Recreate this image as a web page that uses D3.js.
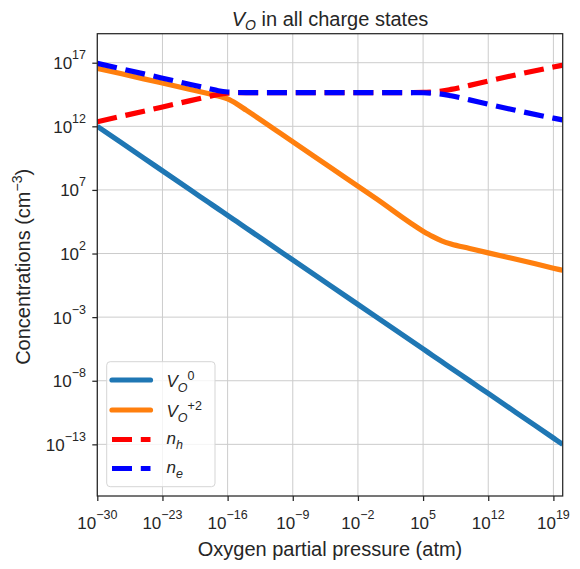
<!DOCTYPE html>
<html>
<head>
<meta charset="utf-8">
<script src="https://cdn.jsdelivr.net/npm/d3@7"></script>
<style>
  html, body { margin: 0; padding: 0; background: #fff; }
  svg text { font-family: "Liberation Sans", Arial, sans-serif; fill: #262626; }
</style>
</head>
<body>
<svg id="chart" width="580" height="569"></svg>
<script>
// ---- data (log10 of values) ----
const logPO2 = [-30, -25, -20, -18, -17, -16, -15, -14, -10, -5, 0, 5, 6, 7, 8, 10, 12, 15, 19, 20];
const logVO0 = [12.0, 9.5, 7.0, 6.0, 5.5, 5.0, 4.5, 4.0, 2.0, -0.5, -3.0, -5.5, -6.0, -6.5, -7.0, -8.0, -9.0, -10.5, -12.5, -13.0];
const logVO2 = [16.56, 15.73, 14.9, 14.56, 14.38, 14.15, 13.75, 13.27, 11.29, 8.79, 6.29, 3.76, 3.35, 3.0, 2.75, 2.4, 2.05, 1.55, 0.85, 0.68];
const logNh  = [12.36, 13.19, 14.02, 14.35, 14.5, 14.6, 14.64, 14.65, 14.65, 14.65, 14.65, 14.66, 14.7, 14.77, 14.9, 15.22, 15.56, 16.05, 16.66, 16.8];
const logNe  = [16.95, 16.12, 15.29, 14.96, 14.8, 14.7, 14.66, 14.65, 14.65, 14.65, 14.65, 14.64, 14.6, 14.53, 14.4, 14.08, 13.74, 13.25, 12.64, 12.5];

const xTickExps = [-30, -23, -16, -9, -2, 5, 12, 19];
const yTickExps = [17, 12, 7, 2, -3, -8, -13];

const seriesNames = ["VO0", "VO2", "nh", "ne"];
const seriesColors = ["#1f77b4", "#ff7f0e", "#ff0000", "#0000ff"];
const seriesDashed = [false, false, true, true];

const titleParts = ["V", "O", " in all charge states"];
const xLabel = "Oxygen partial pressure (atm)";
const yLabelParts = ["Concentrations (cm", "\u22123", ")"];

// ---- layout ----
const svg = d3.select("#chart");
const m = { left: 97.3, right: 562.7, top: 33.7, bottom: 496 };

const x = d3.scaleLog().domain([1e-30, 1e20]).range([m.left, m.right]);
const y = d3.scaleLog().domain([Math.pow(10, -17.06), Math.pow(10, 19.28)]).range([m.bottom, m.top]);

const pow = e => Math.pow(10, e);
const fmtExp = e => (e < 0 ? "\u2212" + Math.abs(e) : String(e));

// grid
const grid = svg.append("g");
grid.selectAll("line.gx").data(xTickExps).join("line")
  .attr("x1", d => x(pow(d))).attr("x2", d => x(pow(d)))
  .attr("y1", m.top).attr("y2", m.bottom)
  .attr("stroke", "#cccccc").attr("stroke-width", 1);
grid.selectAll("line.gy").data(yTickExps).join("line")
  .attr("y1", d => y(pow(d))).attr("y2", d => y(pow(d)))
  .attr("x1", m.left).attr("x2", m.right)
  .attr("stroke", "#cccccc").attr("stroke-width", 1);

// axes ticks
const xAxis = d3.axisBottom(x).tickValues(xTickExps.map(pow)).tickSize(5).tickFormat(() => "");
const yAxis = d3.axisLeft(y).tickValues(yTickExps.map(pow)).tickSize(5).tickFormat(() => "");
const gx = svg.append("g").attr("transform", `translate(0,${m.bottom})`).call(xAxis);
const gy = svg.append("g").attr("transform", `translate(${m.left},0)`).call(yAxis);
[gx, gy].forEach(g => {
  g.select(".domain").remove();
  g.selectAll(".tick line").attr("stroke", "#262626").attr("stroke-width", 1.25);
});

// x tick labels
xTickExps.forEach(e => {
  const t = svg.append("text")
    .attr("x", x(pow(e))).attr("y", 529)
    .attr("text-anchor", "middle").attr("font-size", 17);
  t.append("tspan").text("10");
  t.append("tspan").attr("dy", -10).attr("font-size", 12.5).text(fmtExp(e));
});
// y tick labels
yTickExps.forEach(e => {
  const t = svg.append("text")
    .attr("x", 86).attr("y", y(pow(e)) + 6.5)
    .attr("text-anchor", "end").attr("font-size", 17);
  t.append("tspan").text("10");
  t.append("tspan").attr("dy", -10).attr("font-size", 12.5).text(fmtExp(e));
});

// lines
const allSeries = [logVO0, logVO2, logNh, logNe];
const line = d3.line()
  .x(d => x(pow(d[0])))
  .y(d => y(pow(d[1])))
  .curve(d3.curveMonotoneX);

svg.append("clipPath").attr("id", "clip").append("rect")
  .attr("x", m.left).attr("y", m.top).attr("width", m.right - m.left).attr("height", m.bottom - m.top);

const plot = svg.append("g").attr("clip-path", "url(#clip)");
allSeries.forEach((vals, i) => {
  const pts = logPO2.map((p, j) => [p, vals[j]]);
  plot.append("path")
    .datum(pts)
    .attr("d", line)
    .attr("fill", "none")
    .attr("stroke", seriesColors[i])
    .attr("stroke-width", 5.2)
    .attr("stroke-linejoin", "round")
    .attr("stroke-dasharray", seriesDashed[i] ? "20,8.8" : null);
});

// frame
svg.append("rect")
  .attr("x", m.left).attr("y", m.top).attr("width", m.right - m.left).attr("height", m.bottom - m.top)
  .attr("fill", "none").attr("stroke", "#262626").attr("stroke-width", 1.25);

// title
const title = svg.append("text").attr("x", (m.left + m.right) / 2).attr("y", 26)
  .attr("text-anchor", "middle").attr("font-size", 20);
title.append("tspan").attr("font-style", "italic").text(titleParts[0]);
title.append("tspan").attr("font-style", "italic").attr("font-size", 14).attr("dy", 4).text(titleParts[1]);
title.append("tspan").attr("dy", -4).text(titleParts[2]);

// x label
svg.append("text").attr("x", (m.left + m.right) / 2).attr("y", 556)
  .attr("text-anchor", "middle").attr("font-size", 20).text(xLabel);

// y label
const yl = svg.append("text")
  .attr("transform", `translate(30,${(m.top + m.bottom) / 2 + 2}) rotate(-90)`)
  .attr("text-anchor", "middle").attr("font-size", 20);
yl.append("tspan").text(yLabelParts[0]);
yl.append("tspan").attr("dy", -8).attr("font-size", 14).text(yLabelParts[1]);
yl.append("tspan").attr("dy", 8).text(yLabelParts[2]);

// legend
const lg = svg.append("g");
lg.append("rect")
  .attr("x", 106.7).attr("y", 361.7).attr("width", 108.3).attr("height", 125)
  .attr("rx", 3.5).attr("ry", 3.5)
  .attr("fill", "rgba(255,255,255,0.8)").attr("stroke", "#d5d5d5").attr("stroke-width", 1);

// [text, style, baseline offset from main baseline, font size]
const legendLabels = [
  [["V", "italic", 0, 17], ["O", "italic", 4.5, 12.5], ["0", "normal", -7.5, 12.5]],
  [["V", "italic", 0, 17], ["O", "italic", 4.5, 12.5], ["+2", "normal", -7.5, 12.5]],
  [["n", "italic", 0, 17], ["h", "italic", 5, 12.5]],
  [["n", "italic", 0, 17], ["e", "italic", 5, 12.5]]
];
const legendY = [380, 410, 439.5, 468.5];
const legendBase = [7, 7, 4, 4];
seriesNames.forEach((n, i) => {
  const yy = legendY[i];
  lg.append("line")
    .attr("x1", 112).attr("x2", 150.5).attr("y1", yy).attr("y2", yy)
    .attr("stroke", seriesColors[i]).attr("stroke-width", 5.2)
    .attr("stroke-linecap", seriesDashed[i] ? "butt" : "round")
    .attr("stroke-dasharray", seriesDashed[i] ? "20,8.8" : null);
  const t = lg.append("text").attr("x", 166.5).attr("y", yy + legendBase[i]).attr("font-size", 17);
  let prev = 0;
  legendLabels[i].forEach(p => {
    t.append("tspan").attr("font-style", p[1]).attr("font-size", p[3])
      .attr("dy", p[2] - prev).text(p[0]);
    prev = p[2];
  });
});
</script>
</body>
</html>
